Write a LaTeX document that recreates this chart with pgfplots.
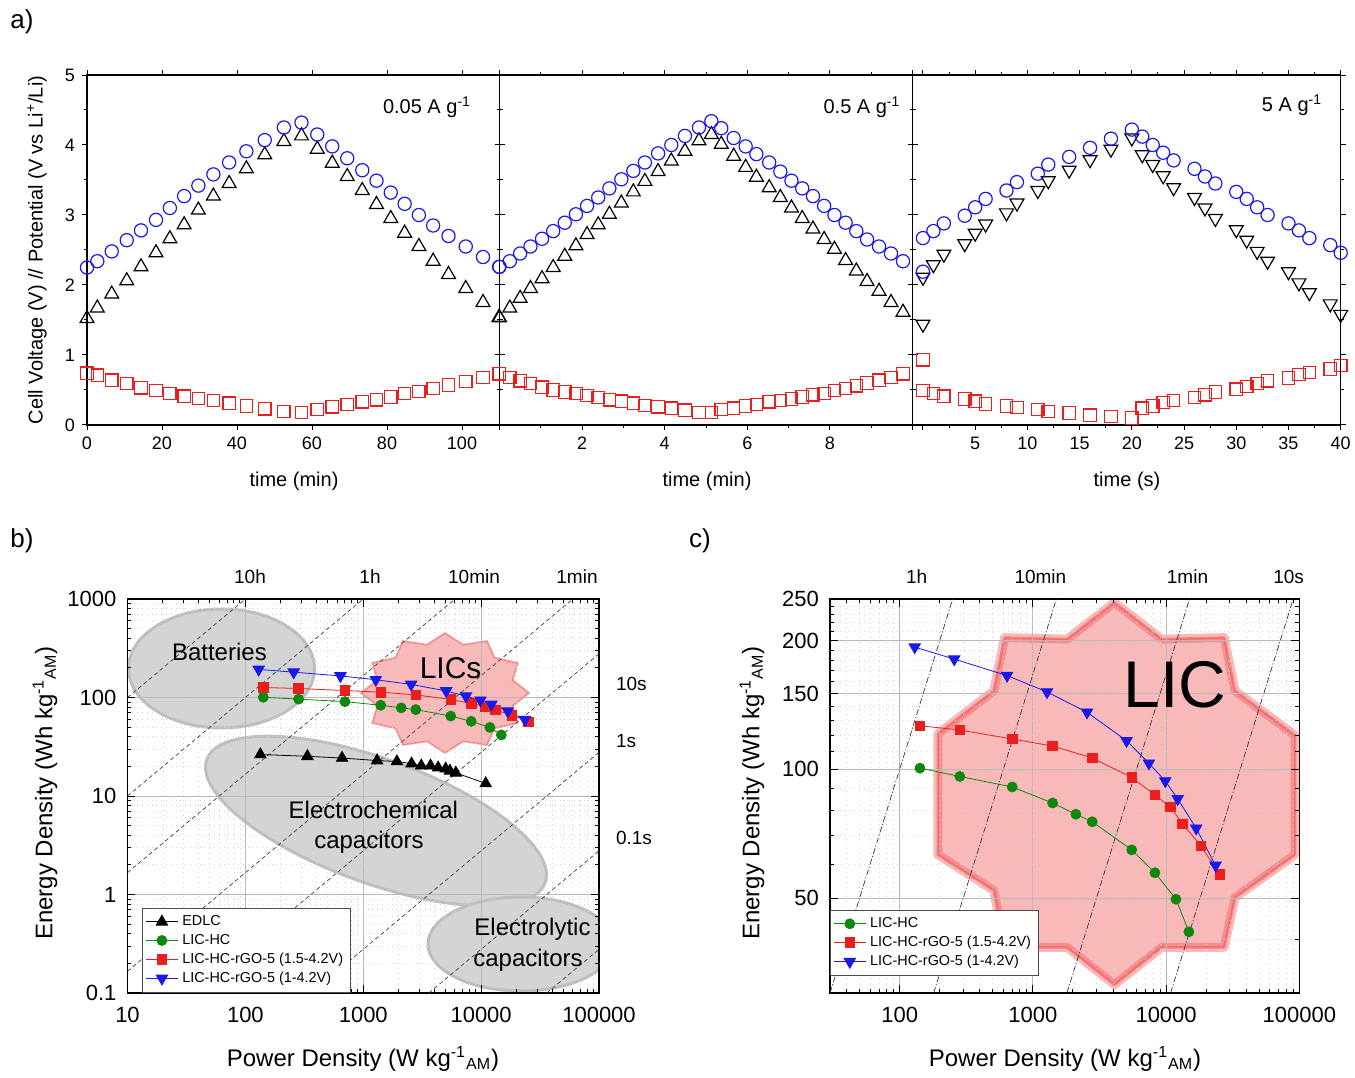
\documentclass[border=0pt]{standalone}
\usepackage{fontspec}
\setmainfont{Liberation Sans}
\usepackage{pgfplots}
\pgfplotsset{compat=1.18}
\definecolor{mblue}{RGB}{25,25,235}
\definecolor{mred}{RGB}{235,30,30}
\definecolor{mgreen}{RGB}{15,135,15}
\definecolor{lic}{RGB}{240,80,80}
\definecolor{ellfill}{RGB}{212,212,212}
\definecolor{elldraw}{RGB}{190,190,190}
\pgfplotsset{
  apanel/.style={scale only axis, height=175pt, ymin=0, ymax=5, ytick={0,...,5},
    minor y tick num=1, tick align=outside, major tick length=2.5pt, minor tick length=1.5pt,
    tick style={black, line width=0.5pt}, axis line style={line width=0.6pt},
    ticklabel style={font=\fontsize{9}{9}\selectfont},
    /pgf/number format/assume math mode=true, anchor=south west},
  cir/.style={only marks, mark=o, mark size=3.3pt, mblue, mark options={line width=0.6pt}},
  sqr/.style={only marks, mark=square, mark size=3.1pt, mred, mark options={line width=0.6pt}},
  tri/.style={only marks, mark=triangle, mark size=4pt, black, mark options={line width=0.6pt}},
  dtri/.style={only marks, mark=triangle, mark size=4pt, black, mark options={line width=0.6pt, rotate=180}},
  lpanel/.style={scale only axis, anchor=south west, height=197pt,
    grid=both, major grid style={gray!55, line width=0.5pt}, minor grid style={gray!35, dotted, line width=0.45pt},
    tick align=inside, major tick length=4pt, minor tick length=2pt,
    tick style={black, line width=0.5pt}, axis line style={line width=0.8pt},
    ticklabel style={font=\fontsize{11}{11}\selectfont},
    xticklabel style={yshift=-3.5pt}, yticklabel style={xshift=-2pt},
    /pgf/number format/assume math mode=true,
    legend image code/.code={\draw[mark repeat=2,mark phase=2] plot coordinates {(0pt,0pt) (8pt,0pt) (16pt,0pt)};},
    legend style={font=\fontsize{7.2}{7.2}\selectfont, draw=black!70, line width=0.4pt, inner sep=1.5pt, row sep=-1.2pt, cells={anchor=west}}},
  gl/.style={mgreen, line width=0.4pt, mark=*, mark size=2.5pt, mark options={solid}},
  rl/.style={mred, line width=0.4pt, mark=square*, mark size=2.4pt, mark options={solid}},
  bl/.style={mblue, line width=0.4pt, mark=triangle*, mark size=3.3pt, mark options={solid, rotate=180}},
  kl/.style={black, line width=0.4pt, mark=triangle*, mark size=3.3pt, mark options={solid}},
  diagb/.style={forget plot, black!75, line width=0.35pt, dash pattern=on 2pt off 1.5pt},
  diagc/.style={forget plot, black!80, line width=0.35pt, dash pattern=on 3pt off 1pt on 0.6pt off 1pt},
}
\begin{document}
\begin{tikzpicture}
\useasboundingbox (0,0) rectangle (677.5pt,538.5pt);
% ---------------- background shapes (panel b)
\begin{scope}
\clip (63.75pt,42pt) rectangle (299.5pt,239pt);
\filldraw[fill=ellfill, draw=elldraw, line width=1.5pt] (110.75pt,204.25pt) ellipse [x radius=46.5pt, y radius=29.75pt];
\begin{scope}[shift={(188pt,128pt)}, rotate=-20]
\filldraw[fill=ellfill, draw=elldraw, line width=1.5pt] (0pt,0pt) ellipse [x radius=90pt, y radius=31pt];
\end{scope}
\filldraw[fill=ellfill, draw=elldraw, line width=1.5pt] (260.5pt,66.5pt) ellipse [x radius=46.5pt, y radius=23.5pt];
\end{scope}
\begin{scope}[shift={(222.5pt,192pt)}]
\filldraw[fill=lic, fill opacity=0.4, draw=lic, draw opacity=0.55, line width=0.8pt]
 (0:42pt and 30pt) -- (15:35pt and 25pt) -- (30:42pt and 30pt) -- (45:35pt and 25pt) -- (60:42pt and 30pt) -- (75:35pt and 25pt) -- (90:42pt and 30pt) -- (105:35pt and 25pt) -- (120:42pt and 30pt) -- (135:35pt and 25pt) -- (150:42pt and 30pt) -- (165:35pt and 25pt) -- (180:42pt and 30pt) -- (195:35pt and 25pt) -- (210:42pt and 30pt) -- (225:35pt and 25pt) -- (240:42pt and 30pt) -- (255:35pt and 25pt) -- (270:42pt and 30pt) -- (285:35pt and 25pt) -- (300:42pt and 30pt) -- (315:35pt and 25pt) -- (330:42pt and 30pt) -- (345:35pt and 25pt) -- cycle;
\end{scope}
% ---------------- background shape (panel c)
\path[fill=lic, fill opacity=0.4, draw=lic, draw opacity=0.4, line width=4.5pt, line join=round,
  postaction={draw=lic, draw opacity=0.55, line width=1.3pt}]
 (502.29pt,219.69pt) -- (533.5pt,218.91pt) -- (557.2pt,237.23pt) -- (580.9pt,218.91pt) -- (612.11pt,219.69pt) -- (617.5pt,193.1pt) -- (647.54pt,170.84pt) -- (647.54pt,111.15pt) -- (617.5pt,89.67pt) -- (612.11pt,64.85pt) -- (580.9pt,64.85pt) -- (557.2pt,46.14pt) -- (533.5pt,64.85pt) -- (502.29pt,64.85pt) -- (496.89pt,93.22pt) -- (468.97pt,111.15pt) -- (468.97pt,171.63pt) -- (496.89pt,193.1pt) -- cycle;
% ---------------- panel a1
\begin{axis}[apanel, at={(43.5pt,326pt)}, width=206.25pt, xmin=0, xmax=110, xtick={0,20,...,100}]
\addplot[sqr] coordinates {(0,0.74)(2.75,0.71)(6.6,0.64)(10.6,0.59)(14.4,0.53)(18.4,0.49)(22.1,0.45)(25.9,0.41)(29.7,0.38)(33.7,0.35)(37.9,0.31)(42.5,0.27)(47.4,0.23)(52.5,0.19)(57.2,0.18)(61.4,0.22)(65.4,0.26)(69.4,0.29)(73.4,0.33)(77.2,0.36)(81.0,0.40)(84.7,0.45)(88.5,0.48)(92.3,0.52)(96.4,0.57)(101.0,0.62)(105.6,0.68)(109.9,0.73)};
\addplot[tri] coordinates {(0,1.52)(2.75,1.67)(6.6,1.87)(10.6,2.06)(14.4,2.26)(18.4,2.46)(22.1,2.66)(25.9,2.86)(29.7,3.07)(33.7,3.27)(37.9,3.45)(42.5,3.66)(47.4,3.86)(52.5,4.05)(57.2,4.13)(61.4,3.94)(65.4,3.74)(69.4,3.55)(73.4,3.35)(77.2,3.15)(81.0,2.95)(84.7,2.74)(88.5,2.55)(92.3,2.34)(96.4,2.15)(101.0,1.95)(105.6,1.75)(109.9,1.54)};
\addplot[cir] coordinates {(0,2.25)(2.75,2.34)(6.6,2.48)(10.6,2.64)(14.4,2.78)(18.4,2.93)(22.1,3.10)(25.9,3.27)(29.7,3.42)(33.7,3.58)(37.9,3.75)(42.5,3.91)(47.4,4.07)(52.5,4.25)(57.2,4.32)(61.4,4.15)(65.4,3.98)(69.4,3.81)(73.4,3.64)(77.2,3.49)(81.0,3.32)(84.7,3.16)(88.5,3.00)(92.3,2.85)(96.4,2.70)(101.0,2.55)(105.6,2.40)(109.9,2.26)};
\end{axis}
% ---------------- panel a2
\begin{axis}[apanel, at={(249.75pt,326pt)}, width=206.5pt, xmin=0, xmax=10, xtick={0,2,...,10}, xticklabels={,2,4,6,8,}, minor x tick num=1, yticklabels={}]
\addplot[sqr] coordinates {(0,0.73)(0.25,0.68)(0.50,0.63)(0.75,0.59)(1.03,0.54)(1.30,0.50)(1.58,0.47)(1.85,0.45)(2.12,0.42)(2.39,0.39)(2.66,0.36)(2.95,0.34)(3.24,0.31)(3.52,0.28)(3.84,0.26)(4.16,0.24)(4.49,0.21)(4.83,0.18)(5.13,0.18)(5.37,0.22)(5.67,0.24)(5.96,0.27)(6.22,0.29)(6.53,0.33)(6.80,0.35)(7.07,0.37)(7.33,0.40)(7.59,0.43)(7.86,0.45)(8.11,0.49)(8.38,0.52)(8.64,0.56)(8.90,0.60)(9.19,0.64)(9.48,0.68)(9.77,0.73)};
\addplot[tri] coordinates {(0,1.53)(0.25,1.67)(0.50,1.81)(0.75,1.95)(1.03,2.09)(1.30,2.25)(1.58,2.41)(1.85,2.56)(2.12,2.72)(2.39,2.86)(2.66,3.01)(2.95,3.17)(3.24,3.33)(3.52,3.48)(3.84,3.62)(4.16,3.77)(4.49,3.91)(4.83,4.06)(5.13,4.15)(5.37,4.01)(5.67,3.84)(5.96,3.68)(6.22,3.54)(6.53,3.39)(6.80,3.25)(7.07,3.10)(7.33,2.95)(7.59,2.80)(7.86,2.65)(8.11,2.51)(8.38,2.35)(8.64,2.20)(8.90,2.05)(9.19,1.91)(9.48,1.75)(9.77,1.61)};
\addplot[cir] coordinates {(0,2.26)(0.25,2.34)(0.50,2.45)(0.75,2.55)(1.03,2.66)(1.30,2.77)(1.58,2.89)(1.85,3.01)(2.12,3.13)(2.39,3.25)(2.66,3.38)(2.95,3.51)(3.24,3.63)(3.52,3.75)(3.84,3.88)(4.16,4.00)(4.49,4.13)(4.83,4.25)(5.13,4.34)(5.37,4.24)(5.67,4.10)(5.96,3.98)(6.22,3.87)(6.53,3.75)(6.80,3.62)(7.07,3.49)(7.33,3.38)(7.59,3.27)(7.86,3.13)(8.11,3.00)(8.38,2.89)(8.64,2.77)(8.90,2.65)(9.19,2.55)(9.48,2.45)(9.77,2.34)};
\end{axis}
% ---------------- panel a3
\begin{axis}[apanel, at={(456.25pt,326pt)}, width=214.1pt, xmin=-1, xmax=40, xtick={0,5,...,40}, xticklabels={,5,10,15,20,25,30,35,40}, minor x tick num=1, yticklabels={}]
\addplot[sqr] coordinates {(0,0.93)(0,0.49)(1,0.45)(2,0.41)(4,0.37)(5,0.34)(6,0.30)(8,0.27)(9,0.25)(11,0.22)(12,0.19)(14,0.17)(16,0.14)(18,0.12)(20,0.10)(21,0.24)(22,0.27)(23,0.32)(24,0.35)(26,0.39)(27,0.43)(28,0.47)(30,0.51)(31,0.55)(32,0.59)(33,0.63)(35,0.67)(36,0.72)(37,0.75)(39,0.80)(40,0.85)};
\addplot[dtri] coordinates {(0,1.44)(0,2.11)(1,2.29)(2,2.44)(4,2.59)(5,2.74)(6,2.87)(8,3.03)(9,3.17)(11,3.35)(12,3.49)(14,3.64)(16,3.79)(18,3.94)(20,4.10)(21,3.86)(22,3.72)(23,3.56)(24,3.39)(26,3.25)(27,3.10)(28,2.95)(30,2.79)(31,2.64)(32,2.48)(33,2.34)(35,2.19)(36,2.03)(37,1.89)(39,1.73)(40,1.58)};
\addplot[cir] coordinates {(0,2.19)(0,2.67)(1,2.77)(2,2.88)(4,2.99)(5,3.11)(6,3.23)(8,3.35)(9,3.47)(11,3.59)(12,3.72)(14,3.83)(16,3.96)(18,4.09)(20,4.22)(21,4.12)(22,4.00)(23,3.89)(24,3.78)(26,3.66)(27,3.55)(28,3.45)(30,3.33)(31,3.23)(32,3.11)(33,3.00)(35,2.88)(36,2.78)(37,2.67)(39,2.57)(40,2.46)};
\end{axis}
% ---------------- panel b
\begin{axis}[xmode=log, ymode=log, lpanel, at={(63.75pt,42pt)}, width=235.75pt,
  xmin=10, xmax=100000, ymin=0.1, ymax=1000,
  xtick={10,100,1000,10000,100000}, xticklabels={10,100,1000,10000,100000},
  ytick={0.1,1,10,100,1000}, yticklabels={0.1,1,10,100,1000},
  minor xtick={20,30,40,50,60,70,80,90,200,300,400,500,600,700,800,900,2000,3000,4000,5000,6000,7000,8000,9000,20000,30000,40000,50000,60000,70000,80000,90000},
  minor ytick={0.2,0.3,0.4,0.5,0.6,0.7,0.8,0.9,2,3,4,5,6,7,8,9,20,30,40,50,60,70,80,90,200,300,400,500,600,700,800,900},
  legend style={at={(rel axis cs:0.031,0.216)}, anchor=north west}]
\addplot[diagb] coordinates {(10,100)(100,1000)};
\addplot[diagb] coordinates {(10,10)(1000,1000)};
\addplot[diagb] coordinates {(10,1.66667)(6000,1000)};
\addplot[diagb] coordinates {(10,0.166667)(60000,1000)};
\addplot[diagb] coordinates {(36,0.1)(100000,277.778)};
\addplot[diagb] coordinates {(360,0.1)(100000,27.7778)};
\addplot[diagb] coordinates {(3600,0.1)(100000,2.77778)};
\addplot[diagb] coordinates {(36000,0.1)(100000,0.277778)};
\addplot[kl] coordinates {(134,26.4)(336,25.3)(661,24.3)(1309,22.9)(1928,22.4)(2570,21.3)(3105,20.3)(3720,20.3)(4315,19.4)(5000,18.9)(5430,18.0)(6100,17.2)(10940,13.4)};
\addlegendentry{EDLC}
\addplot[gl] coordinates {(142,100.6)(283,96.2)(700,90.9)(1406,83.4)(2102,78.5)(2788,75.4)(5520,64.8)(8240,57.3)(11860,49.7)(14830,41.7)};
\addlegendentry{LIC-HC}
\addplot[rl] coordinates {(142,126.4)(283,123.5)(700,117.7)(1406,113.3)(2788,106.3)(5520,95.7)(8240,87.1)(10770,81.6)(13270,74.6)(18250,66.2)(25300,56.8)};
\addlegendentry{LIC-HC-rGO-5 (1.5-4.2V)}
\addplot[bl] coordinates {(129.7,193)(257,180.9)(640,165.6)(1277,151.6)(2548,135.9)(5050,116.6)(7430,103.3)(9860,93.9)(12220,85.3)(16820,72.8)(23500,59.6)};
\addlegendentry{LIC-HC-rGO-5 (1-4.2V)}
\end{axis}
% ---------------- panel c
\begin{axis}[xmode=log, ymode=log, lpanel, at={(415pt,42pt)}, width=234.65pt,
  xmin=30, xmax=100000, ymin=30, ymax=250,
  xtick={100,1000,10000,100000}, xticklabels={100,1000,10000,100000},
  ytick={50,100,150,200,250}, yticklabels={50,100,150,200,250},
  minor xtick={40,50,60,70,80,90,200,300,400,500,600,700,800,900,2000,3000,4000,5000,6000,7000,8000,9000,20000,30000,40000,50000,60000,70000,80000,90000},
  minor ytick={40,60,70,80,90,110,120,130,140,160,170,180,190,210,220,230,240},
  legend style={at={(rel axis cs:0.0,0.211)}, anchor=north west}]
\addplot[diagc] coordinates {(30,30)(250,250)};
\addplot[diagc] coordinates {(180,30)(1500,250)};
\addplot[diagc] coordinates {(1800,30)(15000,250)};
\addplot[diagc] coordinates {(10800,30)(90000,250)};
\addplot[gl] coordinates {(142,100.6)(283,96.2)(700,90.9)(1406,83.4)(2102,78.5)(2788,75.4)(5520,64.8)(8240,57.3)(11860,49.7)(14830,41.7)};
\addlegendentry{LIC-HC}
\addplot[rl] coordinates {(142,126.4)(283,123.5)(700,117.7)(1406,113.3)(2788,106.3)(5520,95.7)(8240,87.1)(10770,81.6)(13270,74.6)(18250,66.2)(25300,56.8)};
\addlegendentry{LIC-HC-rGO-5 (1.5-4.2V)}
\addplot[bl] coordinates {(129.7,193)(257,180.9)(640,165.6)(1277,151.6)(2548,135.9)(5050,116.6)(7430,103.3)(9860,93.9)(12220,85.3)(16820,72.8)(23500,59.6)};
\addlegendentry{LIC-HC-rGO-5 (1-4.2V)}
\end{axis}
% ---------------- texts
\node[font=\fontsize{13}{13}\selectfont] at (11pt,527.5pt) {a)};
\node[font=\fontsize{13}{13}\selectfont] at (11pt,268pt) {b)};
\node[font=\fontsize{13}{13}\selectfont] at (350pt,268pt) {c)};
\node[font=\fontsize{10}{10}\selectfont, rotate=90] at (18.5pt,413.5pt) {Cell Voltage (V) // Potential (V vs Li\textsuperscript{+}/Li)};
\node[font=\fontsize{10}{10}\selectfont] at (147pt,298pt) {time (min)};
\node[font=\fontsize{10}{10}\selectfont] at (353.5pt,298pt) {time (min)};
\node[font=\fontsize{10}{10}\selectfont] at (563.5pt,298pt) {time (s)};
\node[font=\fontsize{10}{10}\selectfont] at (213.5pt,485pt) {0.05 A g\textsuperscript{-1}};
\node[font=\fontsize{10}{10}\selectfont] at (431pt,485pt) {0.5 A g\textsuperscript{-1}};
\node[font=\fontsize{10}{10}\selectfont] at (646pt,486pt) {5 A g\textsuperscript{-1}};
\node[font=\fontsize{12}{12}\selectfont] at (181.5pt,9pt) {Power Density (W kg\textsuperscript{-1}\textsubscript{AM})};
\node[font=\fontsize{12}{12}\selectfont] at (532.5pt,9pt) {Power Density (W kg\textsuperscript{-1}\textsubscript{AM})};
\node[font=\fontsize{12}{12}\selectfont, rotate=90] at (22.5pt,142pt) {Energy Density (Wh kg\textsuperscript{-1}\textsubscript{AM})};
\node[font=\fontsize{12}{12}\selectfont, rotate=90] at (376pt,142pt) {Energy Density (Wh kg\textsuperscript{-1}\textsubscript{AM})};
\begin{scope}[font=\fontsize{9.5}{9.5}\selectfont]
\node at (125pt,250pt) {10h};
\node at (185pt,250pt) {1h};
\node at (237pt,250pt) {10min};
\node at (288.5pt,250pt) {1min};
\node[anchor=west] at (304.5pt,196.5pt) {10s};
\node[anchor=west] at (304.5pt,168pt) {1s};
\node[anchor=west] at (304.5pt,119.5pt) {0.1s};
\node at (458.3pt,250pt) {1h};
\node at (520.2pt,250pt) {10min};
\node at (593.75pt,250pt) {1min};
\node at (644.3pt,250pt) {10s};
\end{scope}
\begin{scope}[font=\fontsize{12}{12}\selectfont]
\node at (109.7pt,212.65pt) {Batteries};
\node at (186.7pt,133.5pt) {Electrochemical};
\node at (184.5pt,117.5pt) {capacitors};
\node at (266.25pt,74pt) {Electrolytic};
\node at (264pt,58.25pt) {capacitors};
\end{scope}
\node[font=\fontsize{15}{15}\selectfont] at (225.3pt,204.65pt) {LICs};
\node[font=\fontsize{33}{33}\selectfont] at (587.5pt,196pt) {LIC};
\end{tikzpicture}
\end{document}
